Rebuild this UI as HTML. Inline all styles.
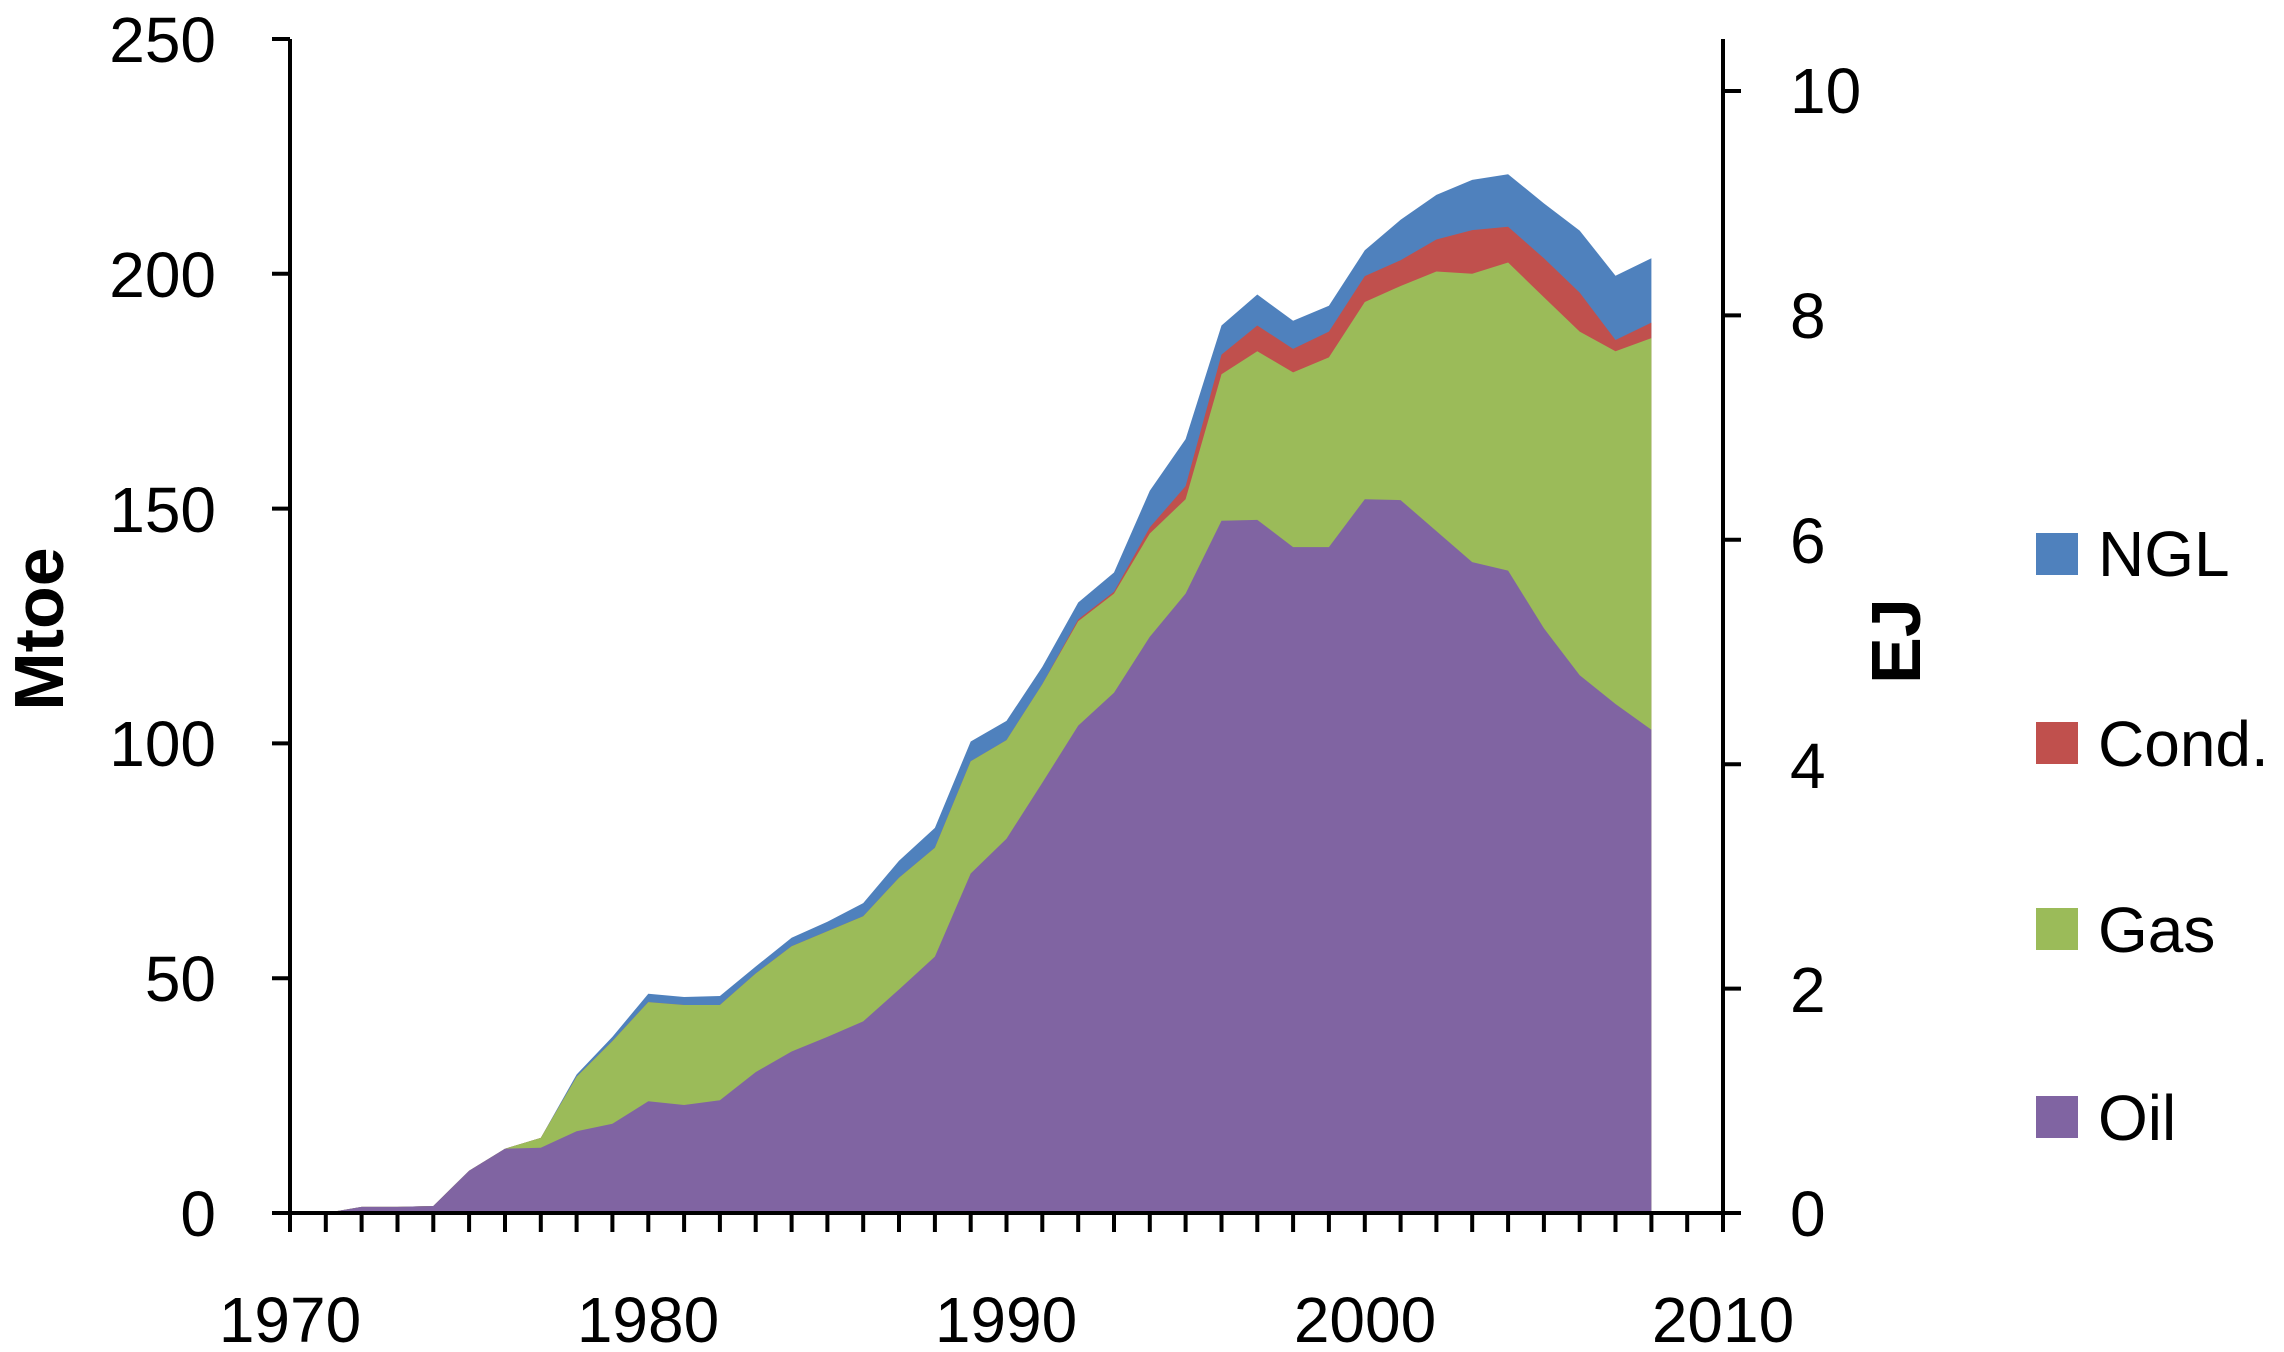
<!DOCTYPE html>
<html><head><meta charset="utf-8"><style>
html,body{margin:0;padding:0;background:#fff;}
svg{display:block;font-family:"Liberation Sans",sans-serif;}
</style></head><body>
<svg id="s" width="2284" height="1352" viewBox="0 0 2284 1352" xmlns="http://www.w3.org/2000/svg">
<g id="areas"></g>
<g id="axes" stroke="#000" stroke-width="4" fill="none"></g>
<g font-size="64" fill="#000">
<g text-anchor="end">
<text x="216" y="62">250</text>
<text x="216" y="297">200</text>
<text x="216" y="532">150</text>
<text x="216" y="766">100</text>
<text x="216" y="1001">50</text>
<text x="216" y="1236">0</text>
</g>
<g text-anchor="start">
<text x="1790" y="113">10</text>
<text x="1790" y="338">8</text>
<text x="1790" y="563">6</text>
<text x="1790" y="788">4</text>
<text x="1790" y="1012">2</text>
<text x="1790" y="1236">0</text>
</g>
<g text-anchor="middle">
<text x="290" y="1342">1970</text>
<text x="648" y="1342">1980</text>
<text x="1006" y="1342">1990</text>
<text x="1365" y="1342">2000</text>
<text x="1723" y="1342">2010</text>
</g>
<text transform="translate(63,629) rotate(-90)" text-anchor="middle" font-weight="bold" font-size="70">Mtoe</text>
<text transform="translate(1920,641) rotate(-90)" text-anchor="middle" font-weight="bold" font-size="70">EJ</text>
<rect x="2036" y="533" width="42" height="42" fill="#4F81BD"/>
<rect x="2036" y="722" width="42" height="42" fill="#C0504D"/>
<rect x="2036" y="908" width="42" height="42" fill="#9BBB59"/>
<rect x="2036" y="1096" width="42" height="42" fill="#8064A2"/>
<text x="2098" y="576">NGL</text>
<text x="2098" y="766">Cond.</text>
<text x="2098" y="952">Gas</text>
<text x="2098" y="1140">Oil</text>
</g>
</svg>
<script>
var d=[
[1971,0,0,0,0],[1972,1.3,1.3,1.3,1.3],[1973,1.3,1.3,1.3,1.3],[1974,1.5,1.5,1.5,1.5],
[1975,9,9,9,9],[1976,13.7,13.7,13.7,13.7],[1977,13.9,16,16,16],[1978,17.4,29,29,29.5],
[1979,19,36.6,36.6,37.5],[1980,23.8,44.9,44.9,46.7],[1981,23,44.3,44.3,46],[1982,24,44.3,44.3,46.2],
[1983,30,51,51,52.5],[1984,34.4,56.8,56.8,58.6],[1985,37.5,60,60,62],[1986,40.8,63.2,63.2,66],
[1987,47.6,71.4,71.4,75],[1988,54.6,77.8,77.8,82],[1989,72.3,96.2,96.2,100.4],[1990,79.7,100.7,100.7,104.8],
[1991,91.6,112.6,112.6,116.3],[1992,103.8,126,126.4,130],[1993,110.8,131.9,132.3,136.4],[1994,122.7,144.7,146,153.8],
[1995,131.9,152,154.8,164.8],[1996,147.4,178.6,182.8,189],[1997,147.6,183.5,189,195.6],[1998,141.8,179,184,190],
[1999,141.8,182.2,187.7,193.2],[2000,152,194,199.5,205],[2001,151.8,197.4,202.9,211.5],[2002,145.2,200.5,207.3,216.8],
[2003,138.6,200,209.3,220],[2004,136.8,202.4,210,221.2],[2005,124.5,195,203.3,215],[2006,114.5,187.7,196,209.2],
[2007,108.4,183.5,185.9,199.6],[2008,102.9,186.3,189.6,203.3]];
function X(y){return 290+(y-1970)*35.825;}
function Y(v){return 1213-v*4.696;}
var cols=["#8064A2","#9BBB59","#C0504D","#4F81BD"];
var g=document.getElementById("areas"),ns="http://www.w3.org/2000/svg";
for(var k=3;k>=0;k--){var p=[];d.forEach(function(r){p.push(X(r[0]).toFixed(1)+","+Y(r[k+1]).toFixed(1));});
p.push(X(2008).toFixed(1)+","+Y(0));p.push(X(1971).toFixed(1)+","+Y(0));
var e=document.createElementNS(ns,"polygon");e.setAttribute("points",p.join(" "));e.setAttribute("fill",cols[k]);g.appendChild(e);}
var a=document.getElementById("axes"),s="M290,39V1213H1723V39";
for(var i=0;i<=5;i++){var yy=1213-i*234.8;s+=" M272,"+yy.toFixed(1)+"H290";}
for(var i=0;i<=5;i++){var yy=1213-i*2*112.2;s+=" M1723,"+yy.toFixed(1)+"H1741";}
for(var yr=1970;yr<=2010;yr++){s+=" M"+X(yr).toFixed(1)+",1213V1232";}
var pa=document.createElementNS(ns,"path");pa.setAttribute("d",s);a.appendChild(pa);
</script>
</body></html>
